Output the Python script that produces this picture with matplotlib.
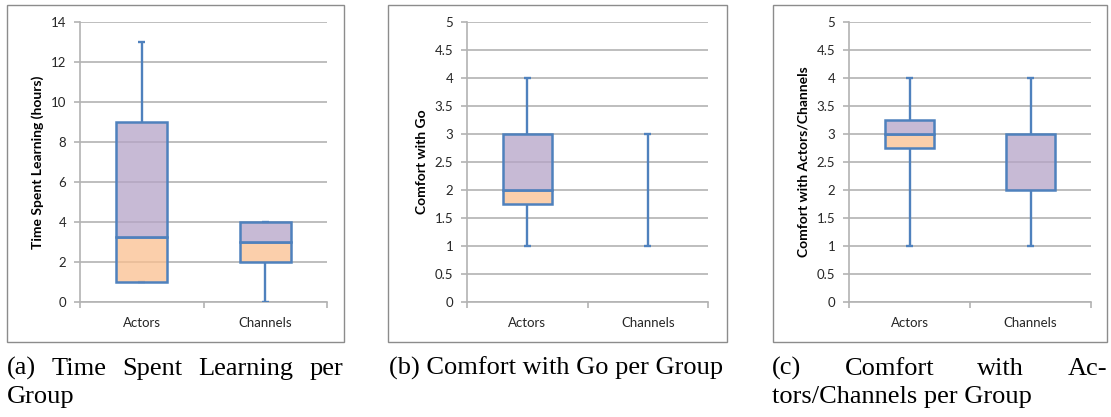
import matplotlib
matplotlib.use('Agg')
import matplotlib.pyplot as plt
from matplotlib.patches import Rectangle

#------------------------------------------------------------
# box-plot statistics (min, q1, median, q3, max)
groups = ['Actors', 'Channels']

time_min = [1, 0]
time_q1 = [1, 2]
time_med = [3.25, 3]
time_q3 = [9, 4]
time_max = [13, 4]

go_min = [1, 1]
go_q1 = [1.75, 3]
go_med = [2, 3]
go_q3 = [3, 3]
go_max = [4, 3]

ac_min = [1, 1]
ac_q1 = [2.75, 2]
ac_med = [3, 2]
ac_q3 = [3.25, 3]
ac_max = [4, 4]

ylabels = ['Time Spent Learning (hours)', 'Comfort with Go',
           'Comfort with Actors/Channels']
yticks = [list(range(0, 15, 2)), [i * 0.5 for i in range(11)],
          [i * 0.5 for i in range(11)]]

#------------------------------------------------------------
W, H = 1111, 417
fig = plt.figure(figsize=(W / 100, H / 100), dpi=100)

blue = '#4F81BD'
purple = (0.71, 0.64, 0.78, 0.75)
orange = (0.98, 0.75, 0.56, 0.75)
grid_c = '#B3B3B3'
tick_font = 'Lato'

# axes boxes in pixels: left, right, top, bottom
ax_px = [(80, 327, 22, 302), (467, 708, 22, 302), (849, 1091, 22, 302)]
frame_px = [(7, 344, 5, 342), (388, 727, 5, 342), (773, 1107, 5, 342)]

stats = [(time_min, time_q1, time_med, time_q3, time_max),
         (go_min, go_q1, go_med, go_q3, go_max),
         (ac_min, ac_q1, ac_med, ac_q3, ac_max)]

for i in range(3):
    l, r, t, b = ax_px[i]
    ax = fig.add_axes([l / W, (H - b) / H, (r - l) / W, (b - t) / H])

    fl, fr, ft, fb = frame_px[i]
    fig.patches.append(Rectangle((fl / W, (H - fb) / H), (fr - fl) / W,
                                 (fb - ft) / H, transform=fig.transFigure,
                                 fill=False, ec='#8C8C8C', lw=1.0))

    mn, q1, md, q3, mx = stats[i]
    x = [0.5, 1.5]
    bw = 0.41
    cw = 0.06
    for j in range(2):
        ax.vlines(x[j], mn[j], q1[j], color=blue, lw=1.7, zorder=3)
        ax.vlines(x[j], q3[j], mx[j], color=blue, lw=1.7, zorder=3)
        ax.hlines([mn[j], mx[j]], x[j] - cw / 2, x[j] + cw / 2,
                  color=blue, lw=1.7, zorder=3)
        if md[j] - q1[j] > 0:
            ax.bar(x[j], md[j] - q1[j], bottom=q1[j], width=bw,
                   color=orange, ec=blue, lw=1.8, zorder=4)
        if q3[j] - md[j] > 0:
            ax.bar(x[j], q3[j] - md[j], bottom=md[j], width=bw,
                   color=purple, ec=blue, lw=1.8, zorder=4)

    ax.set_xlim(0, 2)
    ax.set_ylim(yticks[i][0], yticks[i][-1])
    ax.set_yticks(yticks[i])
    ax.set_yticklabels(['%g' % v for v in yticks[i]], fontsize=9.5,
                       family=tick_font, color='#262626')
    ax.set_xticks([0, 1, 2])
    ax.set_xticklabels([])
    ax.set_xticks(x, minor=True)
    ax.set_xticklabels(groups, minor=True, fontsize=9.5, family=tick_font,
                       color='#262626')
    ax.tick_params(axis='x', which='minor', length=0, pad=11)
    ax.tick_params(axis='x', which='major', length=4, color=grid_c, width=1.2)
    ax.tick_params(axis='y', length=4, color=grid_c, width=1.2, pad=6)

    ax.yaxis.grid(True, color=grid_c, lw=1.2, zorder=1)
    ax.set_axisbelow(True)
    for s in ['top', 'right']:
        ax.spines[s].set_visible(False)
    for s in ['left', 'bottom']:
        ax.spines[s].set_color(grid_c)
        ax.spines[s].set_linewidth(1.2)

    ax.set_ylabel(ylabels[i], fontsize=10, family=tick_font,
                  fontweight='bold', labelpad=5)

#------------------------------------------------------------
# sub-figure captions (LaTeX-like justified text)
cap_font = dict(family='Liberation Serif', fontsize=19, color='black')
base1 = (H - 375) / H
base2 = (H - 403) / H
renderer = fig.canvas.get_renderer()


def justify(words, x0, x1, y):
    txts = [fig.text(0, y, w, va='baseline', ha='left', **cap_font)
            for w in words]
    widths = [tx.get_window_extent(renderer).width for tx in txts]
    gap = (x1 - x0 - sum(widths)) / (len(words) - 1)
    pos = x0
    for tx, w in zip(txts, widths):
        tx.set_x(pos / W)
        pos += w + gap


justify(['(a)', 'Time', 'Spent', 'Learning', 'per'], 7, 343, base1)
fig.text(7 / W, base2, 'Group', va='baseline', **cap_font)
fig.text(389 / W, base1, '(b) Comfort with Go per Group', va='baseline',
         **cap_font)
justify(['(c)', 'Comfort', 'with', 'Ac-'], 772, 1107, base1)
fig.text(772 / W, base2, 'tors/Channels per Group', va='baseline', **cap_font)

fig.savefig('out.png', dpi=100)
